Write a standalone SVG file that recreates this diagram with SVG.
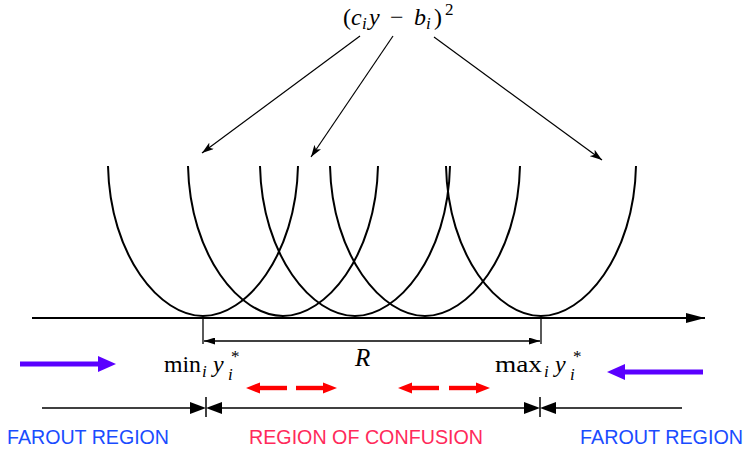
<svg xmlns="http://www.w3.org/2000/svg" width="746" height="451" viewBox="0 0 746 451">
<defs>
<style>
.ln{stroke:#000;fill:none}
.math{font-family:"Liberation Serif","DejaVu Serif",serif;fill:#000}
.it{font-style:italic}
.sm{font-size:17px}
.lab{font-family:"Liberation Sans",Arial,sans-serif;font-size:19.5px}
</style>
<marker id="ah" viewBox="0 0 12 8" refX="12" refY="4" markerWidth="12" markerHeight="8" markerUnits="userSpaceOnUse" orient="auto">
<path d="M0,0 L12,4 L0,8 L3,4 Z" fill="#000"/>
</marker>
<marker id="ahs" viewBox="0 0 11 7" refX="11" refY="3.5" markerWidth="11" markerHeight="7" markerUnits="userSpaceOnUse" orient="auto-start-reverse">
<path d="M0,0 L11,3.5 L0,7 Z" fill="#000"/>
</marker>
<marker id="axh" viewBox="0 0 19 10" refX="19" refY="5" markerWidth="19" markerHeight="10" markerUnits="userSpaceOnUse" orient="auto">
<path d="M0,0 L19,5 L0,10 Z" fill="#000"/>
</marker>
</defs>
<rect width="746" height="451" fill="#fff"/>

<g id="parabolas" class="ln" stroke-width="2">
<path d="M108,166 C110,256 160,316 203,316 C246,316 296,256 298,166"/>
<path d="M188,166 C190,256 240,316 283,316 C326,316 376,256 378,166"/>
<path d="M260,166 C262,256 312,316 355,316 C398,316 448,256 450,166"/>
<path d="M330,166 C332,256 382,316 425,316 C468,316 518,256 520,166"/>
<path d="M446,166 C448,256 498,316 541,316 C584,316 634,256 636,166"/>
</g>

<g id="axis">
<line x1="32" y1="318" x2="705" y2="318" stroke="#000" stroke-width="2" marker-end="url(#axh)"/>
<line x1="203" y1="318" x2="203" y2="344" stroke="#000" stroke-width="1.3"/>
<line x1="541" y1="318" x2="541" y2="344" stroke="#000" stroke-width="1.3"/>
</g>

<g id="label-top" class="math" font-size="24">
<text x="343" y="25">(</text>
<text x="351" y="25" class="it">c</text>
<text x="362" y="29" class="it sm">i</text>
<text x="369" y="25" class="it">y</text>
<text x="390" y="25">−</text>
<text x="414" y="25" class="it">b</text>
<text x="426" y="29" class="it sm">i</text>
<text x="434" y="25">)</text>
<text x="445" y="15" class="sm">2</text>
</g>

<g id="connectors" stroke="#000" stroke-width="1.2" fill="none">
<line x1="360" y1="36" x2="202" y2="153" marker-end="url(#ah)"/>
<line x1="393" y1="36" x2="311" y2="157" marker-end="url(#ah)"/>
<line x1="434" y1="37" x2="602" y2="160" marker-end="url(#ah)"/>
</g>

<g id="range-R">
<line x1="204" y1="341" x2="540" y2="341" stroke="#000" stroke-width="1.3" marker-start="url(#ahs)" marker-end="url(#ahs)"/>
<text class="math it" x="355" y="366" font-size="25">R</text>
</g>

<g id="label-min" class="math" font-size="24">
<text x="164" y="372" textLength="37" lengthAdjust="spacingAndGlyphs">min</text>
<text x="202" y="377" class="it sm">i</text>
<text x="213" y="372" class="it">y</text>
<text x="228" y="380" class="it sm">i</text>
<text x="231" y="362" class="sm">*</text>
</g>
<g id="label-max" class="math" font-size="24">
<text x="495" y="372" textLength="47" lengthAdjust="spacingAndGlyphs">max</text>
<text x="544" y="377" class="it sm">i</text>
<text x="555" y="372" class="it">y</text>
<text x="570" y="380" class="it sm">i</text>
<text x="573" y="362" class="sm">*</text>
</g>

<g id="purple-arrows" fill="#5a00ff" stroke="none">
<rect x="20" y="361.5" width="80" height="5"/>
<path d="M98,356 L116,364 L98,372 Z"/>
<rect x="623" y="369.5" width="80" height="5"/>
<path d="M625,364 L607,372 L625,380 Z"/>
</g>

<g id="red-arrows" fill="#ff0000" stroke="none">
<path d="M246,388 L260,382.5 L260,393.5 Z"/>
<rect x="259" y="385.8" width="28" height="4.4"/>
<rect x="296" y="385.8" width="28" height="4.4"/>
<path d="M337,388 L323,382.5 L323,393.5 Z"/>
<path d="M398,388 L412,382.5 L412,393.5 Z"/>
<rect x="411" y="385.8" width="28" height="4.4"/>
<rect x="449" y="385.8" width="28" height="4.4"/>
<path d="M490,388 L476,382.5 L476,393.5 Z"/>
</g>

<g id="regions-line" stroke="#000" stroke-width="1.5">
<line x1="42" y1="408" x2="192" y2="408"/>
<line x1="220" y1="408" x2="526" y2="408"/>
<line x1="554" y1="408" x2="682" y2="408"/>
<line x1="206" y1="397" x2="206" y2="417"/>
<line x1="540" y1="397" x2="540" y2="417"/>
<g fill="#000" stroke="none">
<path d="M190,402 L206,408 L190,414 Z"/>
<path d="M222,402 L206,408 L222,414 Z"/>
<path d="M524,402 L540,408 L524,414 Z"/>
<path d="M556,402 L540,408 L556,414 Z"/>
</g>
</g>

<g id="region-labels" class="lab">
<text x="7" y="444" fill="#1a4cff" textLength="162" lengthAdjust="spacingAndGlyphs">FAROUT REGION</text>
<text x="249" y="444" fill="#ff2a5a" textLength="234" lengthAdjust="spacingAndGlyphs">REGION OF CONFUSION</text>
<text x="580" y="444" fill="#1a4cff" textLength="163" lengthAdjust="spacingAndGlyphs">FAROUT REGION</text>
</g>
</svg>
